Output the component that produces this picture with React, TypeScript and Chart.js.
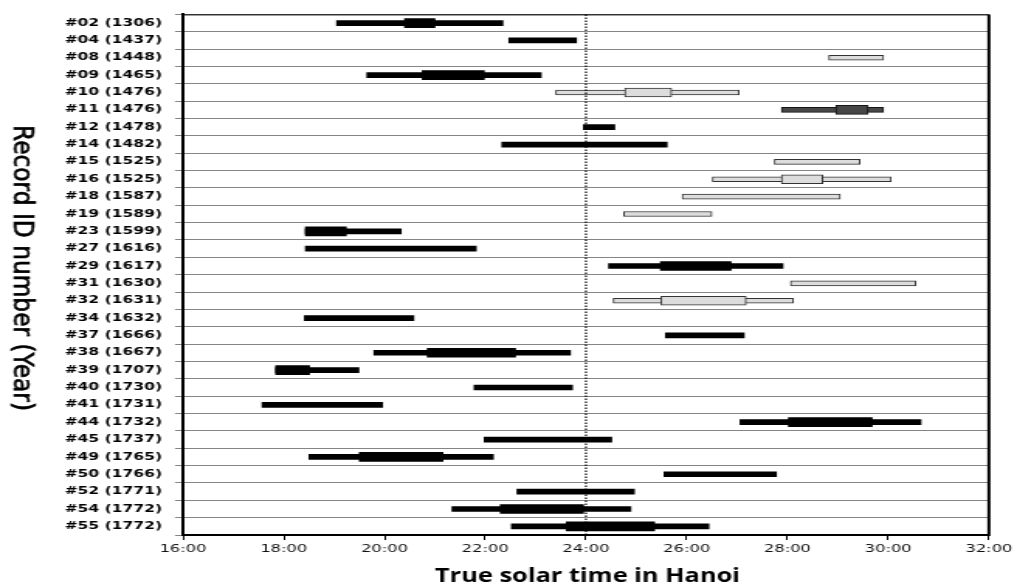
import React, { useEffect, useRef } from "react";
import { Chart, registerables } from "chart.js";

Chart.register(...registerables);

// ---- data ----
const categories = [
  "#02 (1306)", "#04 (1437)", "#08 (1448)", "#09 (1465)", "#10 (1476)",
  "#11 (1476)", "#12 (1478)", "#14 (1482)", "#15 (1525)", "#16 (1525)",
  "#18 (1587)", "#19 (1589)", "#23 (1599)", "#27 (1616)", "#29 (1617)",
  "#31 (1630)", "#32 (1631)", "#34 (1632)", "#37 (1666)", "#38 (1667)",
  "#39 (1707)", "#40 (1730)", "#41 (1731)", "#44 (1732)", "#45 (1737)",
  "#49 (1765)", "#50 (1766)", "#52 (1771)", "#54 (1772)", "#55 (1772)",
];

// outer (thin) range, hours
const outerStart = [
  19.05, 22.47, 28.82, 19.65, 23.40, 27.88, 23.95, 22.33, 27.74, 26.51,
  25.91, 24.75, 18.43, 18.43, 24.45, 28.06, 24.54, 18.41, 25.58, 19.79,
  17.84, 21.78, 17.57, 27.06, 21.98, 18.50, 25.55, 22.63, 21.34, 22.52,
];
const outerEnd = [
  22.35, 23.81, 29.91, 23.11, 27.04, 29.91, 24.57, 25.61, 29.44, 30.06,
  29.05, 26.50, 20.33, 21.82, 27.91, 30.55, 28.12, 20.58, 27.14, 23.69,
  19.49, 23.73, 19.96, 30.65, 24.51, 22.16, 27.78, 24.96, 24.89, 26.44,
];
// inner (thick) range, hours (null = none)
const innerStart = [
  20.40, null, null, 20.75, 24.77, 28.96, null, null, null, 27.88,
  null, null, 18.43, null, 25.48, null, 25.49, null, null, 20.85,
  17.84, null, null, 28.02, null, 19.50, null, null, 22.30, 23.61,
];
const innerEnd = [
  21.00, null, null, 21.98, 25.70, 29.60, null, null, null, 28.70,
  null, null, 19.24, null, 26.88, null, 27.18, null, null, 22.60,
  18.51, null, null, 29.68, null, 21.16, null, null, 23.95, 25.36,
];
// bar style: k = black, l = light grey, d = dark grey
const kinds = [
  "k", "k", "l", "k", "l", "d", "k", "k", "l", "l",
  "l", "l", "k", "k", "k", "l", "l", "k", "k", "k",
  "k", "k", "k", "k", "k", "k", "k", "k", "k", "k",
];
const xTickLabels = ["16:00", "18:00", "20:00", "22:00", "24:00", "26:00", "28:00", "30:00", "32:00"];
const xMin = 16;
const xMax = 32;
const refLine = 24;

// ---- geometry (internal canvas is stretched horizontally like the reference) ----
const CSS_W = 1017;
const H = 587;
const STRETCH = 1.55;
const W = Math.round(CSS_W / STRETCH);

const fillFor = (k: string) => (k === "k" ? "#000000" : k === "l" ? "#dcdcdc" : "#474747");
const borderFor = (k: string) => (k === "k" ? "#000000" : k === "l" ? "#333333" : "#151515");
const bwFor = (k: string) => (k === "k" ? 0 : 1);

const overlay = {
  id: "overlay",
  afterDatasetsDraw(chart: any) {
    const { ctx, chartArea: a, scales } = chart;
    const x24 = scales.x.getPixelForValue(refLine);
    ctx.save();
    ctx.strokeStyle = "#000";
    ctx.lineWidth = 1.2;
    ctx.setLineDash([1.5, 1.5]);
    ctx.beginPath();
    ctx.moveTo(x24, a.top);
    ctx.lineTo(x24, a.bottom);
    ctx.stroke();
    ctx.setLineDash([]);
    ctx.lineWidth = 1;
    ctx.beginPath();
    ctx.moveTo(a.left, a.top + 0.5);
    ctx.lineTo(a.right, a.top + 0.5);
    ctx.stroke();
    ctx.lineWidth = 2;
    ctx.beginPath();
    ctx.moveTo(a.right, a.top);
    ctx.lineTo(a.right, a.bottom + 1);
    ctx.stroke();
    ctx.restore();
  },
  afterDraw(chart: any) {
    const { ctx, chartArea: a } = chart;
    ctx.save();
    ctx.fillStyle = "#000";
    ctx.strokeStyle = "#000";
    ctx.textAlign = "center";
    ctx.textBaseline = "middle";
    // y title, reading top to bottom
    const yt = "Record ID number (Year)";
    ctx.font = '18.4px "DejaVu Sans"';
    const my = ctx.measureText(yt).width;
    ctx.save();
    ctx.translate(14.2, 268);
    ctx.rotate(Math.PI / 2);
    ctx.scale(286 / my, 1);
    ctx.fillText(yt, 0, 0);
    ctx.lineWidth = 0.5;
    ctx.strokeText(yt, 0, 0);
    ctx.restore();
    // x title
    const xt = "True solar time in Hanoi";
    ctx.font = 'bold 19.6px "Open Sans"';
    const mx = ctx.measureText(xt).width;
    ctx.save();
    ctx.translate((a.left + a.right) / 2 + 1, 576);
    ctx.scale(305 / STRETCH / mx, 1);
    ctx.fillText(xt, 0, 0);
    ctx.restore();
    ctx.restore();
  },
};

export default function App() {
  const ref = useRef<HTMLCanvasElement | null>(null);

  useEffect(() => {
    if (!ref.current) return;
    const outer = outerStart.map((s, i) => [s, outerEnd[i]]);
    const inner = innerStart.map((s, i) => (s === null ? null : [s, innerEnd[i] as number]));
    const chart = new Chart(ref.current, {
      type: "bar",
      data: {
        labels: categories,
        datasets: [
          {
            label: "inner",
            data: inner as any,
            backgroundColor: kinds.map(fillFor),
            borderColor: kinds.map(borderFor),
            borderWidth: kinds.map(bwFor),
            borderSkipped: false,
            barThickness: 9,
            grouped: false,
          } as any,
          {
            label: "outer",
            data: outer as any,
            backgroundColor: kinds.map(fillFor),
            borderColor: kinds.map(borderFor),
            borderWidth: kinds.map(bwFor),
            borderSkipped: false,
            barThickness: 5,
            grouped: false,
          } as any,
        ],
      },
      options: {
        indexAxis: "y",
        responsive: false,
        animation: false,
        devicePixelRatio: 1,
        layout: { padding: { top: 13, right: W - 993 / STRETCH, left: 0, bottom: 0 } },
        plugins: { legend: { display: false }, tooltip: { enabled: false } },
        scales: {
          x: {
            type: "linear",
            min: xMin,
            max: xMax,
            afterFit: (s: any) => {
              s.height = H - 535;
            },
            ticks: {
              stepSize: 2,
              autoSkip: false,
              maxRotation: 0,
              color: "#111",
              padding: 3,
              font: { family: "DejaVu Sans", size: 10.5 },
              callback: (v: any) => xTickLabels[Math.round((Number(v) - xMin) / 2)] ?? "",
            },
            grid: { drawOnChartArea: false, drawTicks: true, tickLength: 5, color: "#000" },
            border: { display: true, color: "#000", width: 2 },
          },
          y: {
            type: "category",
            offset: true,
            afterFit: (s: any) => {
              s.width = 183 / STRETCH;
            },
            ticks: {
              autoSkip: false,
              color: "#000",
              padding: 8.4,
              font: { family: "DejaVu Sans", size: 10, weight: "bold" },
            },
            grid: { offset: true, color: "#858585", lineWidth: 1, drawTicks: true, tickLength: 5.2 },
            border: { display: true, color: "#000", width: 2 },
          },
        },
      } as any,
      plugins: [overlay],
    });
    return () => chart.destroy();
  }, []);

  return (
    <div style={{ position: "absolute", left: 0, top: 0, width: CSS_W, height: H, background: "#fff" }}>
      <canvas ref={ref} width={W} height={H} style={{ width: CSS_W + "px", height: H + "px", display: "block" }} />
    </div>
  );
}
